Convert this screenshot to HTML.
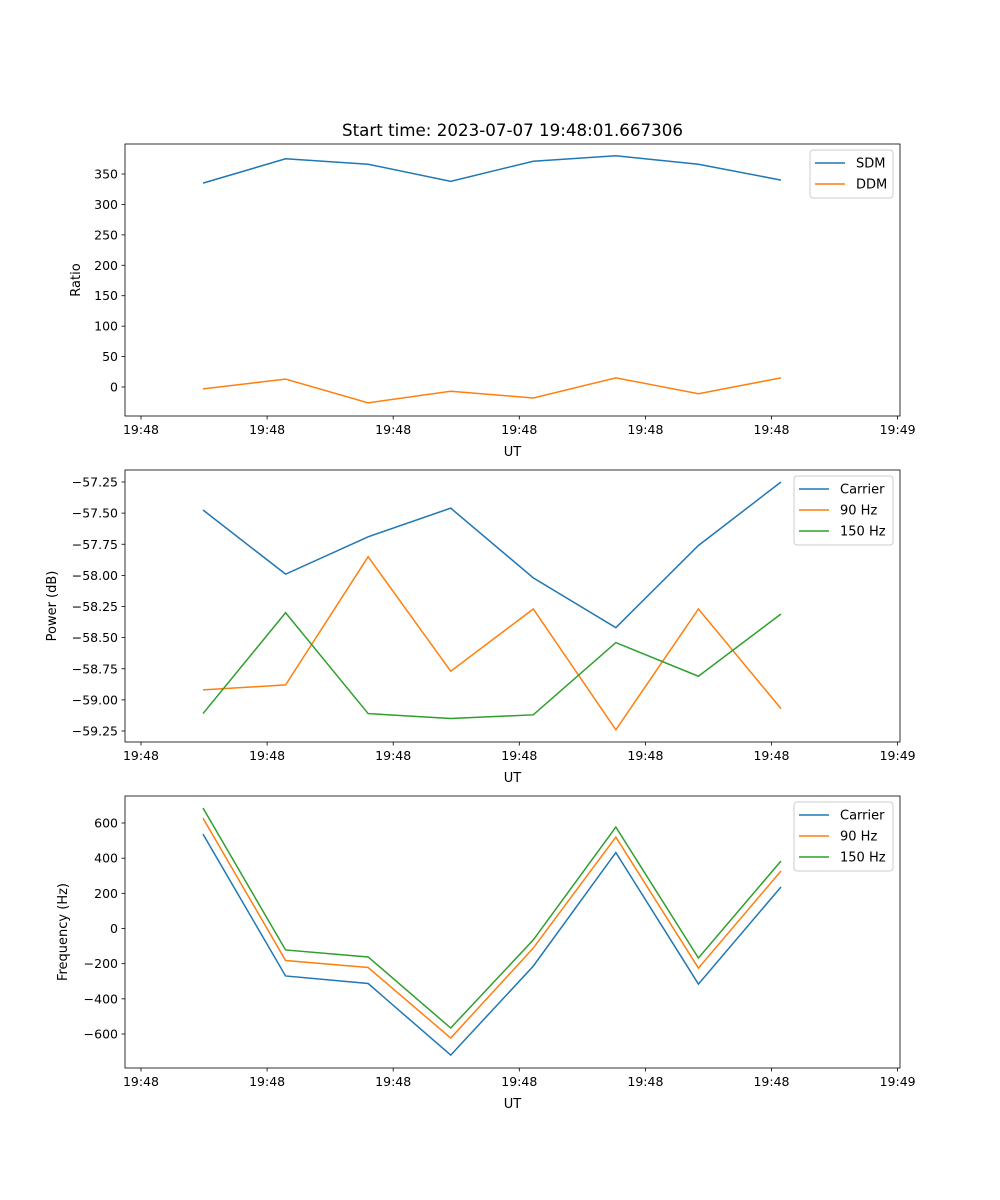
<!DOCTYPE html>
<html><head><meta charset="utf-8"><style>
body{margin:0;background:#fff}
svg{display:block;font-family:"DejaVu Sans","Liberation Sans",sans-serif}
</style></head><body>
<svg id="fig" width="1000" height="1200" viewBox="0 0 1000 1200">
<rect width="1000" height="1200" fill="#fff"/>
<text x="512.5" y="136" font-size="16.7" text-anchor="middle">Start time: 2023-07-07 19:48:01.667306</text>
</svg>
<script>
const xIdx = [0,1,2,3,4,5,6,7];
const xTickLabels = ["19:48","19:48","19:48","19:48","19:48","19:48","19:49"];
const sdm = [335,375,366,338,371,380,366,340];
const ddm = [-3,13,-26,-7,-18,15,-11,15];
const carrierPow = [-57.475,-57.99,-57.69,-57.46,-58.02,-58.42,-57.76,-57.25];
const hz90Pow = [-58.92,-58.88,-57.85,-58.77,-58.27,-59.24,-58.27,-59.07];
const hz150Pow = [-59.11,-58.30,-59.11,-59.15,-59.12,-58.54,-58.81,-58.31];
const carrierFreq = [537,-270,-313,-720,-214,432,-316,236];
const hz90Freq = [628,-182,-222,-623,-111,520,-225,327];
const hz150Freq = [685,-122,-162,-566,-65,577,-168,384];
const ticks1 = [0,50,100,150,200,250,300,350];
const ticks2 = [-59.25,-59.0,-58.75,-58.5,-58.25,-58.0,-57.75,-57.5,-57.25];
const ticks3 = [-600,-400,-200,0,200,400,600];

const NS="http://www.w3.org/2000/svg";
const svg=document.getElementById('fig');
function mk(tag,attrs,parent){const e=document.createElementNS(NS,tag);for(const k in attrs)e.setAttribute(k,attrs[k]);(parent||svg).appendChild(e);return e;}
const C=['#1f77b4','#ff7f0e','#2ca02c'];
function xScale(i){return 203+i*82.57;}
function xTickPos(j){return 141+j*126.1;}

function panel(top,ymin,ymax,pxMin,pxMax,ticks,fmt,ylabel,series,names,legW,name){
  const g=mk('g',{});
  
  
  const L=125,R=900,T=top,B=top+272;
  const y=v=>pxMin+(v-ymin)/(ymax-ymin)*(pxMax-pxMin);
  series.forEach((s,k)=>{
    const p=mk('polyline',{points:s.map((v,i)=>xScale(xIdx[i])+','+y(v)).join(' '),fill:'none',stroke:C[k],'stroke-width':1.5},g);
    
    
  });
  mk('rect',{x:L,y:T,width:R-L,height:B-T,fill:'none',stroke:'#000','stroke-width':0.8},g);
  ticks.forEach(t=>{
    const yy=y(t);
    mk('line',{x1:L-3.5,x2:L,y1:yy,y2:yy,stroke:'#000','stroke-width':0.8},g);
    const tx=mk('text',{x:L-7,y:yy+4.5,'font-size':12.5,'text-anchor':'end'},g);
    tx.textContent=fmt(t).replace('-','\u2212');
    
    
  });
  xTickLabels.forEach((lab,j)=>{
    const xx=xTickPos(j);
    mk('line',{x1:xx,x2:xx,y1:B,y2:B+3.5,stroke:'#000','stroke-width':0.8},g);
    const tx=mk('text',{x:xx,y:B+18,'font-size':12.5,'text-anchor':'middle'},g);
    tx.textContent=lab;
    
    
  });
  const xl=mk('text',{x:512.5,y:B+40,'font-size':13,'text-anchor':'middle'},g);
  xl.textContent='UT';
  
  
  const ylx=ylabel.x;
  const yl=mk('text',{x:ylx,y:(T+B)/2,'font-size':13,'text-anchor':'middle',transform:`rotate(-90 ${ylx} ${(T+B)/2})`},g);
  yl.textContent=ylabel.t;
  
  
  const lx=R-7-legW, ly=T+6, lh=names.length*21+6;
  const lg=mk('g',{},g);
  
  
  mk('rect',{x:lx,y:ly,width:legW,height:lh,rx:3,fill:'#fff',stroke:'#ccc','stroke-width':1},lg);
  names.forEach((n,k)=>{
    const yy=ly+13+k*21;
    mk('line',{x1:lx+5,x2:lx+35,y1:yy,y2:yy,stroke:C[k],'stroke-width':1.5},lg);
    const tx=mk('text',{x:lx+46,y:yy+4.5,'font-size':13},lg);
    tx.textContent=n;
    
    
  });
}
panel(144,0,350,387,174,ticks1,v=>String(v),{x:80,t:'Ratio'},[sdm,ddm],['SDM','DDM'],83,'ratio-panel');
panel(470,-59.25,-57.25,731,482,ticks2,v=>v.toFixed(2),{x:56,t:'Power (dB)'},[carrierPow,hz90Pow,hz150Pow],['Carrier','90 Hz','150 Hz'],99,'power-panel');
panel(796,-600,600,1034,823,ticks3,v=>String(v),{x:67,t:'Frequency (Hz)'},[carrierFreq,hz90Freq,hz150Freq],['Carrier','90 Hz','150 Hz'],99,'frequency-panel');
</script>
</body></html>
